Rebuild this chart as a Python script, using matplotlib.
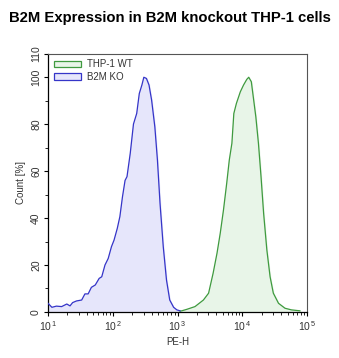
import matplotlib
matplotlib.use("Agg")
import matplotlib.pyplot as plt
import numpy as np
from matplotlib.patches import Patch
from matplotlib.ticker import FixedLocator, LogLocator, NullFormatter

plt.rcParams['font.family'] = ['Liberation Sans', 'DejaVu Sans']
plt.rcParams['mathtext.fontset'] = 'custom'
plt.rcParams['mathtext.rm'] = 'Liberation Sans'
plt.rcParams['mathtext.it'] = 'Liberation Sans'

title = "B2M Expression in B2M knockout THP-1 cells"
x_label = "PE-H"
y_label = "Count [%]"
series_names = ["THP-1 WT", "B2M KO"]

ko_log = [1.00, 1.06, 1.13, 1.21, 1.29, 1.34, 1.38, 1.44, 1.52, 1.57, 1.62, 1.67, 1.73,
          1.79, 1.83, 1.88, 1.93, 1.98, 2.02, 2.07, 2.11, 2.15, 2.19, 2.22, 2.27, 2.32,
          2.37, 2.41, 2.45, 2.48, 2.52, 2.56, 2.60, 2.65, 2.69, 2.73, 2.78, 2.83, 2.88,
          2.94, 2.99, 3.04]
ko_val = [3.7, 2.0, 2.5, 2.3, 3.4, 2.6, 4.0, 4.7, 5.1, 7.7, 7.7, 10.5, 11.5,
          14.3, 15.0, 20.0, 22.8, 27.8, 30.6, 35.6, 40.6, 49.0, 56.0, 57.6, 67.5, 80.0,
          84.5, 93.0, 96.6, 99.9, 99.4, 96.6, 90.2, 78.8, 64.7, 46.3, 27.8, 13.6, 5.1,
          2.0, 0.9, 0.5]

wt_log = [3.04, 3.14, 3.27, 3.40, 3.48, 3.55, 3.61, 3.66, 3.71, 3.76, 3.80, 3.84, 3.87,
          3.91, 3.97, 4.02, 4.07, 4.10, 4.14, 4.17, 4.21, 4.25, 4.29, 4.33, 4.38, 4.43,
          4.48, 4.56, 4.66, 4.76, 4.89]
wt_val = [0.3, 1.1, 2.3, 5.1, 8.0, 16.5, 25.0, 33.5, 43.4, 54.8, 64.7, 71.8, 84.5,
          88.8, 93.7, 96.6, 99.0, 99.9, 98.0, 91.6, 83.0, 71.8, 57.6, 42.0, 26.4, 15.0,
          8.0, 3.7, 1.6, 0.9, 0.5]

x_ticks = [10, 100, 1000, 10000, 100000]
x_ticklabels = [r"$10^{\,1}$", r"$10^{\,2}$", r"$10^{\,3}$", r"$10^{\,4}$", r"$10^{\,5}$"]
y_ticks = [0, 20, 40, 60, 80, 100, 110]
y_minor = [10, 30, 50, 70, 90]

fig = plt.figure(figsize=(3.39, 3.58), dpi=100)
ax = fig.add_axes([0.1416, 0.1285, 0.764, 0.722])

wt_x = 10 ** np.array(wt_log)
ko_x = 10 ** np.array(ko_log)
ax.fill_between(wt_x, wt_val, 0, color='#e8f5e8', zorder=1)
ax.plot(wt_x, wt_val, color='#3f9a3f', lw=0.9, zorder=3)
ax.fill_between(ko_x, ko_val, 0, color='#e6e6fb', zorder=2)
ax.plot(ko_x, ko_val, color='#3535c8', lw=0.9, zorder=4)

ax.set_xscale('log')
ax.set_xlim(10, 100000)
ax.set_ylim(0, 110)
ax.set_xticks(x_ticks)
ax.set_xticklabels(x_ticklabels)
ax.xaxis.set_minor_locator(LogLocator(base=10, subs=np.arange(2, 10)))
ax.xaxis.set_minor_formatter(NullFormatter())
ax.set_yticks(y_ticks)
ax.set_yticklabels([str(v) for v in y_ticks], rotation=90, va='center')
ax.yaxis.set_minor_locator(FixedLocator(y_minor))

ax.tick_params(axis='both', which='major', labelsize=7.5, length=3, width=0.8,
               direction='out', labelcolor='#333333', pad=2)
ax.tick_params(axis='both', which='minor', length=2, width=0.6, direction='out')
for s in ['top', 'right']:
    ax.spines[s].set_color('#555555')
    ax.spines[s].set_linewidth(0.8)
for s in ['left', 'bottom']:
    ax.spines[s].set_color('black')
    ax.spines[s].set_linewidth(0.9)

ax.set_xlabel(x_label, fontsize=7, color='#333333', labelpad=3)
ax.set_ylabel(y_label, fontsize=7, color='#333333', labelpad=4)

handles = [Patch(facecolor='#e8f5e8', edgecolor='#3f9a3f', lw=0.9),
           Patch(facecolor='#e6e6fb', edgecolor='#3535c8', lw=0.9)]
ax.legend(handles, series_names, loc='upper left', frameon=False, fontsize=7,
          handlelength=2.8, handleheight=0.7, borderaxespad=0.2, labelspacing=0.3,
          handletextpad=0.6, labelcolor='#333333')

fig.text(0.5, 0.950, title, ha='center', va='center', fontsize=10.7, fontweight='bold')

fig.savefig('out.png', dpi=100)
